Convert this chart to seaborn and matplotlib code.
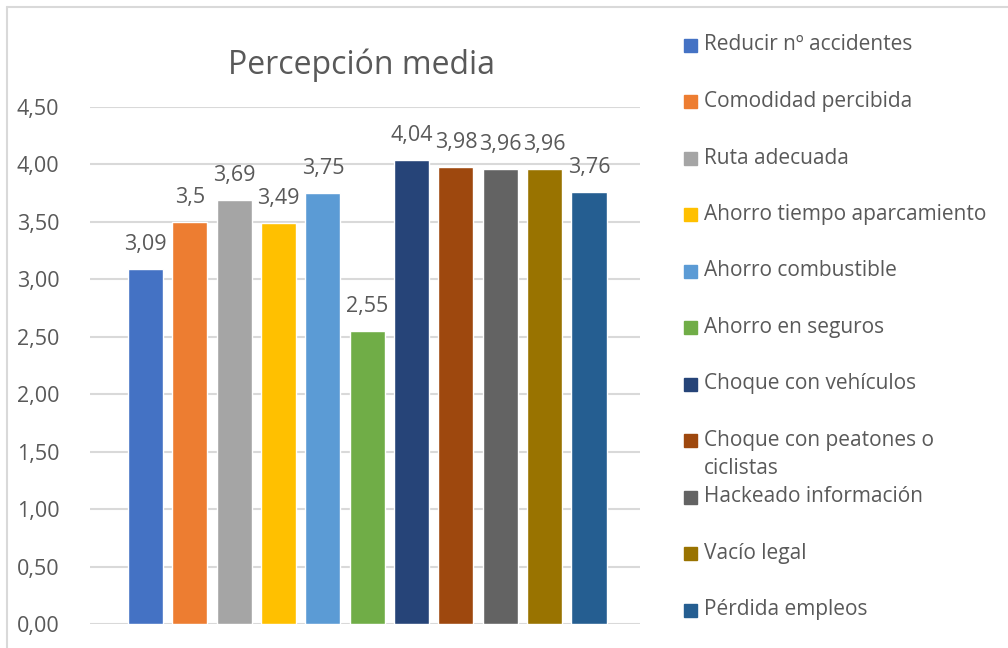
import numpy as np
import matplotlib
matplotlib.use('Agg')
import matplotlib.pyplot as plt
import seaborn as sns
from matplotlib.patches import Rectangle
from matplotlib.lines import Line2D

sns.set_theme(style='white')
plt.rcParams['font.family'] = ['Open Sans', 'DejaVu Sans']

# datos
categorias = ['Reducir nº accidentes', 'Comodidad percibida', 'Ruta adecuada',
              'Ahorro tiempo aparcamiento', 'Ahorro combustible', 'Ahorro en seguros',
              'Choque con vehículos', 'Choque con peatones o\nciclistas',
              'Hackeado información', 'Vacío legal', 'Pérdida empleos']
valores = [3.09, 3.5, 3.69, 3.49, 3.75, 2.55, 4.04, 3.98, 3.96, 3.96, 3.76]
colores = ['#4472C4', '#ED7D31', '#A5A5A5', '#FFC000', '#5B9BD5', '#70AD47',
           '#264478', '#9E480E', '#636363', '#997300', '#255E91']
yticks = [0, 0.5, 1.0, 1.5, 2.0, 2.5, 3.0, 3.5, 4.0, 4.5]

texto = '#595959'
rejilla = '#D9D9D9'

fig = plt.figure(figsize=(10.08, 6.48), dpi=100)
ax = fig.add_axes([90 / 1008, 1 - 624 / 648, 550 / 1008, (624 - 107) / 648])

sns.barplot(x=list(range(len(valores))), y=valores, hue=list(range(len(valores))),
            palette=colores, legend=False, width=0.79, saturation=1, ax=ax)

ax.set_xlim(-1.25, 11.15)
ax.set_ylim(0, 4.5)
ax.set_yticks(yticks)
ax.set_yticklabels([f'{t:.2f}'.replace('.', ',') for t in yticks])
ax.set_xticks([])
ax.set_xlabel('')
ax.set_ylabel('')
ax.tick_params(axis='y', length=0, pad=22, labelsize=15.5, labelcolor=texto)
for s in ax.spines.values():
    s.set_visible(False)
ax.grid(axis='y', color=rejilla, linewidth=1.5)
ax.set_axisbelow(True)

# etiquetas de datos
for cont in ax.containers:
    ax.bar_label(cont, labels=[f'{v:g}'.replace('.', ',') for v in cont.datavalues],
                 padding=10, fontsize=15.5, color=texto)

fig.text(362 / 1008, 1 - 65 / 648, 'Percepción media', ha='center', va='center',
         fontsize=23, color=texto)

# leyenda a la derecha
y0 = 45
paso = 56.5
for i, (lab, col) in enumerate(zip(categorias, colores)):
    yc = y0 + i * paso
    fig.patches.append(Rectangle((684 / 1008, 1 - (yc + 6.5) / 648), 13 / 1008, 13 / 648,
                                 transform=fig.transFigure, color=col))
    fig.text(704 / 1008, 1 - (yc - 10.5) / 648, lab, ha='left', va='top',
             fontsize=15, color=texto, linespacing=1.45)

# borde del gráfico
fig.add_artist(Line2D([7 / 1008, 7 / 1008], [0, 1 - 7 / 648], color=rejilla, lw=1.5))
fig.add_artist(Line2D([7 / 1008, 1], [1 - 7 / 648, 1 - 7 / 648], color=rejilla, lw=1.5))

fig.savefig('out.png', dpi=100)
